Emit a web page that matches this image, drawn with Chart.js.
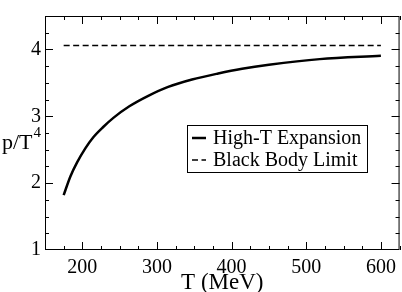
<!DOCTYPE html>
<html>
<head>
<meta charset="utf-8">
<script src="https://cdn.jsdelivr.net/npm/chart.js@4.4.0/dist/chart.umd.min.js"></script>
<style>
  html, body { margin: 0; padding: 0; background: #fff; }
  #wrap { width: 402px; height: 292px; }
</style>
</head>
<body>
<div id="wrap"><canvas id="myGraph" width="402" height="292"></canvas></div>
<script>
// data
const temps = [175, 184, 193, 204, 215, 228, 242, 263, 289, 315, 347, 382, 414, 450, 518, 600];
const highT = [1.82, 2.10, 2.31, 2.52, 2.69, 2.84, 2.98, 3.15, 3.31, 3.44, 3.55, 3.64, 3.71, 3.77, 3.855, 3.905];
const bbTemps = [175, 600];
const bbValues = [4.06, 4.06];
const xTicks = [200, 300, 400, 500, 600];
const yTicks = [1, 2, 3, 4];
const seriesNames = ["High-T Expansion", "Black Body Limit"];

const serif = "'Liberation Serif', 'Times New Roman', 'DejaVu Serif', serif";

// inward ticks, frame, axis titles and the boxed legend
const decorations = {
  id: "decorations",
  afterDraw(chart) {
    const ctx = chart.ctx;
    const a = chart.chartArea;
    const xs = chart.scales.x;
    const ys = chart.scales.y;
    ctx.save();
    ctx.strokeStyle = "#000";
    ctx.lineWidth = 1;

    // frame
    ctx.strokeRect(a.left + 0.5, a.top + 0.5, a.right - a.left - 1, a.bottom - a.top - 1);

    // x ticks, top and bottom
    for (let v = 175; v <= 625; v += 25) {
      const px = Math.round(xs.getPixelForValue(v)) + 0.5;
      const len = v % 100 === 0 ? 8 : 4;
      ctx.beginPath();
      ctx.moveTo(px, a.bottom); ctx.lineTo(px, a.bottom - len);
      ctx.moveTo(px, a.top); ctx.lineTo(px, a.top + len);
      ctx.stroke();
    }
    // y ticks, left and right
    for (let v = 1.25; v < 4.5; v += 0.25) {
      const py = Math.round(ys.getPixelForValue(v)) + 0.5;
      const len = Math.abs(v - Math.round(v)) < 1e-6 ? 8 : 4;
      ctx.beginPath();
      ctx.moveTo(a.left, py); ctx.lineTo(a.left + len, py);
      ctx.moveTo(a.right, py); ctx.lineTo(a.right - len, py);
      ctx.stroke();
    }

    // axis titles
    ctx.fillStyle = "#000";
    ctx.font = "23px " + serif;
    ctx.textAlign = "center";
    ctx.textBaseline = "alphabetic";
    ctx.fillText("T (MeV)", (a.left + a.right) / 2, 289);

    ctx.textAlign = "left";
    ctx.font = "22px " + serif;
    ctx.fillText("p/T", 2, 149);
    const w = ctx.measureText("p/T").width;
    ctx.font = "15px " + serif;
    ctx.fillText("4", 2 + w + 1, 137);

    // legend
    const lx = 187, ly = 125, lw = 180, lh = 47;
    ctx.fillStyle = "#fff";
    ctx.fillRect(lx, ly, lw, lh);
    ctx.strokeStyle = "#000";
    ctx.lineWidth = 1;
    ctx.strokeRect(lx + 0.5, ly + 0.5, lw, lh);

    ctx.font = "20px " + serif;
    ctx.fillStyle = "#000";
    ctx.textBaseline = "middle";
    chart.data.datasets.forEach((ds, i) => {
      const yy = ly + 13 + i * 22;
      ctx.beginPath();
      ctx.lineWidth = ds.borderWidth;
      ctx.setLineDash(ds.borderDash || []);
      ctx.moveTo(192, yy);
      ctx.lineTo(206, yy);
      ctx.stroke();
      ctx.setLineDash([]);
      ctx.fillText(ds.label, 213, yy + 1);
    });
    ctx.restore();
  }
};

new Chart(document.getElementById("myGraph"), {
  type: "line",
  data: {
    datasets: [
      {
        label: seriesNames[0],
        data: temps.map((t, i) => ({ x: t, y: highT[i] })),
        borderColor: "#000",
        borderWidth: 2.5,
        pointRadius: 0,
        cubicInterpolationMode: "monotone",
        fill: false,
      },
      {
        label: seriesNames[1],
        data: bbTemps.map((t, i) => ({ x: t, y: bbValues[i] })),
        borderColor: "#000",
        borderWidth: 1.5,
        borderDash: [6, 3.5],
        pointRadius: 0,
        fill: false,
      },
    ],
  },
  options: {
    responsive: false,
    animation: false,
    devicePixelRatio: 1,
    layout: { padding: { left: 0, right: 2, top: 1, bottom: 0 } },
    plugins: {
      legend: { display: false },
      tooltip: { enabled: false },
    },
    scales: {
      x: {
        type: "linear",
        min: 150,
        max: 625,
        afterBuildTicks: (scale) => { scale.ticks = xTicks.map((v) => ({ value: v })); },
        afterFit: (scale) => { scale.height = 42; },
        grid: { display: false, drawTicks: false },
        border: { display: false },
        ticks: {
          color: "#000",
          padding: 6,
          maxRotation: 0,
          font: { family: serif, size: 20 },
        },
      },
      y: {
        type: "linear",
        min: 1,
        max: 4.5,
        afterBuildTicks: (scale) => { scale.ticks = yTicks.map((v) => ({ value: v })); },
        afterFit: (scale) => { scale.width = 45; },
        grid: { display: false, drawTicks: false },
        border: { display: false },
        ticks: {
          color: "#000",
          padding: 4,
          font: { family: serif, size: 20 },
        },
      },
    },
  },
  plugins: [decorations],
});
</script>
</body>
</html>
